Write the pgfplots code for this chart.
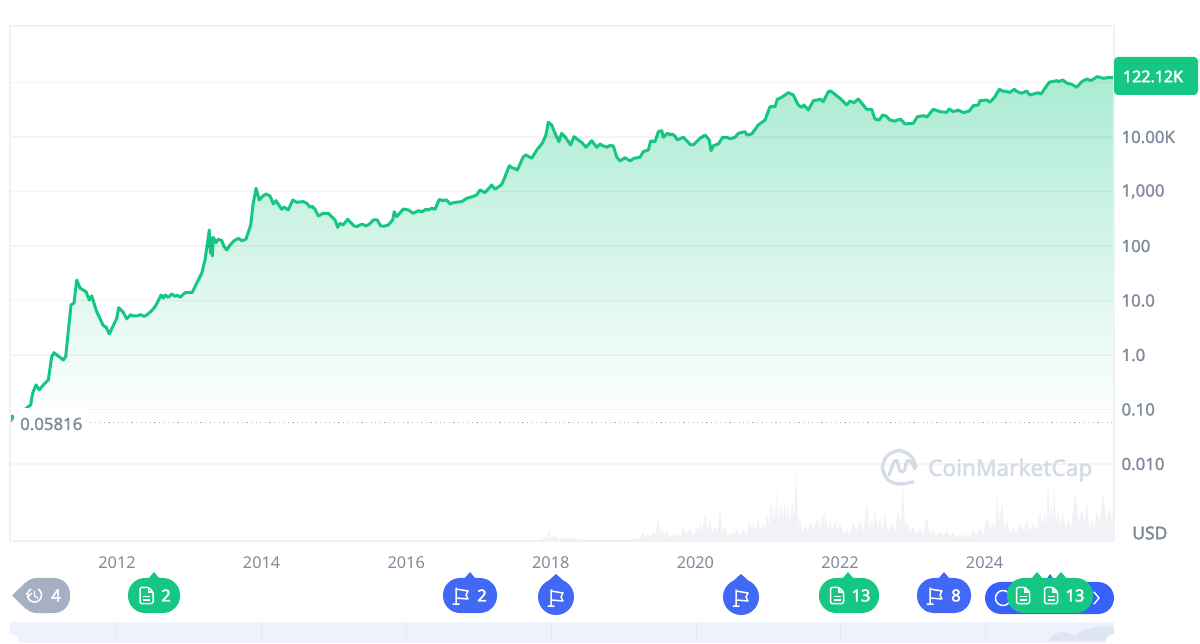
\documentclass[border=0pt]{standalone}
\usepackage{pgfplots}
\usepackage{pgfplotstable}
\pgfplotsset{compat=1.18}
\usepackage{fontspec}
\setmainfont{Noto Sans}
\newfontfamily\med[FakeBold=1.3]{Noto Sans}
\newfontfamily\bld[FakeBold=2.4]{Noto Sans}
\definecolor{cmcg}{HTML}{16C784}
\definecolor{cmcb}{HTML}{4169F5}
\definecolor{cmcbb}{HTML}{3861FB}
\definecolor{lab}{HTML}{808A9D}
\definecolor{frame}{HTML}{EFF2F5}
\definecolor{vol}{HTML}{F0F2F6}
\definecolor{wm}{HTML}{D6DCE7}
\definecolor{greyp}{HTML}{A6B0C3}
\definecolor{strip}{HTML}{EEF2FC}
\definecolor{stripd}{HTML}{DFE6F3}
\definecolor{strips}{HTML}{E4E9F5}
\definecolor{dots}{HTML}{B9B2BA}

\pgfplotstableread{
year price
2010.527 0.059
2010.548 0.076
2010.603 0.064
2010.686 0.090
2010.773 0.1125
2010.806 0.121
2010.834 0.201
2010.880 0.282
2010.925 0.228
2010.981 0.282
2011.050 0.348
2011.097 0.931
2011.129 1.10
2011.257 0.81
2011.290 0.93
2011.364 8.27
2011.405 9.0
2011.443 23.8
2011.488 16.9
2011.571 14.5
2011.617 10.2
2011.650 12.2
2011.719 6.23
2011.811 3.45
2011.848 3.26
2011.894 2.43
2011.996 4.71
2012.024 7.38
2012.087 6.07
2012.134 4.58
2012.189 5.49
2012.220 5.2
2012.272 5.19
2012.330 5.5
2012.370 5.1
2012.411 5.42
2012.480 6.50
2012.526 7.70
2012.557 9.11
2012.609 12.6
2012.640 11.0
2012.664 12.6
2012.710 11.4
2012.757 13.2
2012.800 12.0
2012.840 12.4
2012.871 11.4
2012.941 13.9
2013.041 14.1
2013.102 20.7
2013.172 31.6
2013.217 55.3
2013.277 197
2013.293 74.4
2013.307 140
2013.318 65.6
2013.332 144
2013.369 115
2013.401 133
2013.450 125
2013.480 98
2013.517 84.5
2013.563 104
2013.620 125
2013.678 138
2013.730 125
2013.784 133
2013.849 243
2013.881 565
2013.923 1145
2013.968 698
2014.019 827
2014.061 899
2014.116 827
2014.162 590
2014.199 678
2014.278 471
2014.310 520
2014.369 458
2014.430 698
2014.485 634
2014.577 650
2014.630 600
2014.669 513
2014.700 535
2014.739 471
2014.784 355
2014.853 398
2014.923 398
2015.015 300
2015.053 220
2015.084 261
2015.126 243
2015.191 309
2015.278 233
2015.320 228
2015.361 243
2015.400 250
2015.440 233
2015.490 250
2015.545 300
2015.600 300
2015.647 233
2015.700 232
2015.752 243
2015.813 300
2015.835 426
2015.869 345
2015.960 477
2016.029 458
2016.098 398
2016.167 444
2016.220 425
2016.270 470
2016.306 458
2016.353 492
2016.398 471
2016.458 719
2016.500 680
2016.560 698
2016.606 590
2016.650 620
2016.710 640
2016.767 650
2016.836 750
2016.900 790
2016.975 863
2017.021 1066
2017.090 951
2017.183 1316
2017.228 1097
2017.321 1343
2017.367 1871
2017.426 2972
2017.470 2700
2017.500 2650
2017.537 2478
2017.620 4355
2017.657 4677
2017.736 4064
2017.805 5768
2017.882 7656
2017.933 10890
2017.965 18620
2018.012 16596
2018.058 11695
2018.113 8202
2018.150 11695
2018.196 10139
2018.275 7129
2018.321 10139
2018.380 8810
2018.430 7900
2018.487 6471
2018.566 8551
2018.635 6471
2018.680 7447
2018.726 6839
2018.780 6500
2018.820 7000
2018.865 6839
2018.912 4246
2018.957 3631
2019.026 4169
2019.095 3631
2019.151 4064
2019.234 4246
2019.279 5370
2019.349 5768
2019.382 8453
2019.441 8202
2019.487 12510
2019.534 13060
2019.556 9870
2019.611 11695
2019.650 11000
2019.680 11300
2019.718 10423
2019.750 8810
2019.833 9870
2019.890 8300
2019.925 7345
2019.971 7129
2020.064 9462
2020.133 10890
2020.192 8810
2020.216 5610
2020.248 6918
2020.317 7447
2020.378 9870
2020.433 9870
2020.480 9300
2020.520 9600
2020.548 9870
2020.594 11695
2020.686 12510
2020.710 10890
2020.779 11350
2020.870 16596
2020.963 20510
2021.032 35980
2021.101 35980
2021.133 49200
2021.194 53460
2021.285 65020
2021.354 59020
2021.423 38640
2021.470 35080
2021.502 38640
2021.562 31260
2021.631 46340
2021.733 49200
2021.769 44460
2021.838 67770
2021.871 69820
2022.000 51290
2022.046 44460
2022.093 38640
2022.138 45810
2022.193 42560
2022.253 49770
2022.369 32210
2022.438 32210
2022.484 21380
2022.543 20510
2022.590 25350
2022.636 24270
2022.691 20510
2022.750 19500
2022.800 20600
2022.839 21130
2022.899 17340
2023.014 17820
2023.069 23560
2023.152 24600
2023.203 23280
2023.290 32210
2023.383 29110
2023.475 28380
2023.511 32660
2023.560 29500
2023.600 30000
2023.636 31260
2023.705 27930
2023.788 29990
2023.844 37500
2023.913 38640
2023.936 46340
2024.028 47750
2024.074 43350
2024.143 54830
2024.203 74990
2024.250 70000
2024.300 68000
2024.351 66070
2024.410 74990
2024.450 68000
2024.512 63390
2024.581 69820
2024.627 59020
2024.742 65020
2024.780 61000
2024.834 78340
2024.894 100900
2024.996 107900
2025.029 104300
2025.080 111200
2025.140 97000
2025.204 92700
2025.273 81660
2025.343 103500
2025.412 115900
2025.460 109000
2025.504 114500
2025.559 127900
2025.642 119400
2025.711 122500
2025.782 122120
}\price

\pgfplotstableread{
year volume
2017.851 2
2017.920 20
2017.950 8
2017.975 60
2017.995 12
2018.017 25
2018.038 12
2018.058 30
2018.100 10
2018.169 15
2018.240 8
2018.307 15
2018.404 5
2018.639 5
2019.095 5
2019.192 15
2019.235 9
2019.275 45
2019.310 20
2019.344 35
2019.380 20
2019.413 50
2019.450 28
2019.483 125
2019.510 40
2019.538 70
2019.570 28
2019.607 50
2019.650 20
2019.690 35
2019.725 20
2019.759 40
2019.795 24
2019.828 70
2019.875 32
2019.925 60
2019.975 32
2020.022 70
2020.045 38
2020.063 100
2020.095 54
2020.133 135
2020.170 60
2020.202 110
2020.235 40
2020.271 75
2020.305 42
2020.340 165
2020.375 40
2020.409 75
2020.445 22
2020.478 40
2020.525 32
2020.575 60
2020.615 32
2020.658 60
2020.705 32
2020.755 110
2020.775 48
2020.797 90
2020.830 48
2020.866 125
2020.900 48
2020.935 90
2020.960 48
2020.990 140
2021.020 75
2021.046 215
2021.075 95
2021.101 175
2021.115 95
2021.129 275
2021.155 100
2021.184 190
2021.210 105
2021.239 200
2021.260 95
2021.281 175
2021.310 95
2021.336 200
2021.365 105
2021.391 365
2021.420 70
2021.447 125
2021.480 45
2021.516 85
2021.550 45
2021.585 100
2021.630 55
2021.682 110
2021.725 60
2021.765 135
2021.780 70
2021.792 140
2021.830 60
2021.862 110
2021.895 55
2021.931 100
2021.965 48
2022.000 90
2022.050 32
2022.097 60
2022.140 32
2022.180 90
2022.230 48
2022.276 100
2022.325 55
2022.373 190
2022.410 60
2022.442 110
2022.465 60
2022.484 160
2022.520 60
2022.553 110
2022.590 60
2022.622 135
2022.670 48
2022.719 90
2022.760 48
2022.802 150
2022.840 80
2022.871 275
2022.900 55
2022.926 100
2022.970 40
2023.009 75
2023.060 32
2023.106 60
2023.155 32
2023.203 125
2023.245 32
2023.286 60
2023.335 28
2023.383 50
2023.430 28
2023.480 50
2023.520 22
2023.563 40
2023.610 18
2023.660 30
2023.710 18
2023.756 35
2023.800 20
2023.839 50
2023.890 32
2023.936 60
2023.985 32
2024.033 125
2024.075 55
2024.116 100
2024.145 55
2024.171 230
2024.205 100
2024.240 190
2024.275 60
2024.309 110
2024.350 38
2024.393 70
2024.440 38
2024.489 90
2024.540 50
2024.586 100
2024.630 48
2024.669 90
2024.720 50
2024.766 140
2024.800 75
2024.835 150
2024.855 82
2024.877 310
2024.898 100
2024.918 190
2024.940 100
2024.960 265
2024.988 80
2025.015 150
2025.050 75
2025.084 140
2025.120 60
2025.153 110
2025.200 60
2025.250 250
2025.300 88
2025.347 160
2025.380 88
2025.416 210
2025.450 60
2025.485 110
2025.520 60
2025.554 150
2025.595 82
2025.637 250
2025.685 95
2025.734 175
2025.760 95
2025.790 200
}\volume

\pgfplotstableread{
year price
2024.88 0
2024.95 55000
2025.02 70000
2025.08 78000
2025.15 68000
2025.22 55000
2025.28 50000
2025.33 85000
2025.41 105000
2025.50 110000
2025.56 130000
2025.64 120000
2025.71 125000
2025.79 122000
}\overview

\newcommand\docicon[2]{%
  \draw[white,line width=1.5pt,rounded corners=1.4pt,line join=round]
    (#1-6.5,#2-8)--(#1+2,#2-8)--(#1+6.5,#2-3.5)--(#1+6.5,#2+8)--(#1-6.5,#2+8)--cycle;
  \draw[white,line width=1.2pt] (#1+2,#2-8)--(#1+2,#2-3.5)--(#1+6.5,#2-3.5);
  \draw[white,line width=1.3pt] (#1-3.5,#2+1)--(#1+3.5,#2+1) (#1-3.5,#2+4.5)--(#1+3.5,#2+4.5);}
\newcommand\flagicon[2]{%
  \draw[white,line width=1.5pt,line join=round,line cap=round]
    (#1-5,#2-8)--(#1-5,#2+8) (#1-8,#2+8)--(#1-2,#2+8)
    (#1-5,#2-7)--(#1+7,#2-5)--(#1+5,#2-1)--(#1+7,#2+3)--(#1-5,#2+2);}

\begin{document}
\begin{tikzpicture}[x=1pt,y=1pt]
\path[use as bounding box] (0,0) rectangle (1200,643);

% volume (lowest layer)
\begin{axis}[at={(10pt,102pt)},anchor=south west,scale only axis,width=1104pt,height=515pt,
  xmin=2010.52,xmax=2025.79,ymin=0,ymax=2575,hide axis,clip=true]
\addplot[draw=none,fill=vol] table[x=year,y=volume] {\volume} \closedcycle;
\end{axis}

% price
\begin{axis}[at={(10pt,102pt)},anchor=south west,scale only axis,width=1104pt,height=515pt,
  xmin=2010.52,xmax=2025.79,ymode=log,ymin=0.000386,ymax=1088000,
  axis line style={frame,line width=1.2pt},
  xtick={2012,2014,2016,2018,2020,2022,2024},
  xticklabels={2012,2014,2016,2018,2020,2022,2024},
  ytick={0.01,0.1,1,10,100,1000,10000,100000},
  yticklabels={0.010,0.10,1.0,10.0,100,{1,000},10.00K,{}},
  minor y tick num=0,minor ytick={},
  tick style={draw=none},major tick length=0pt,
  axis y line*=right,axis x line*=bottom,
  ymajorgrids,major grid style={black,opacity=.045,line width=1.1pt},
  xticklabel style={font=\fontsize{16.3}{16}\selectfont,text=lab,yshift=-12pt},
  yticklabel style={font=\fontsize{16.8}{16}\selectfont\med,text=lab,anchor=west,xshift=4pt},
  axis on top,clip=true]
\addplot[draw=none,shade,top color=cmcg!36,bottom color=white,forget plot]
  table[x=year,y=price] {\price}
  -- (axis cs:2025.79,0.0582) -- (axis cs:2010.52,0.0582) -- cycle;
\addplot[cmcg,line width=3pt,line join=round] table[x=year,y=price] {\price};
\end{axis}

% the rest of the frame
\draw[frame,line width=1.2pt] (10,102) -- (10,617) -- (1114,617);

% overview strip
\fill[strip] (10,0) rectangle (1114,21);
\foreach \s in {116,261,406,551,696,840,985} \draw[strips,line width=1pt] (\s,0) -- (\s,21);
\begin{axis}[at={(10pt,0pt)},anchor=south west,scale only axis,width=1104pt,height=21pt,
  xmin=2010.52,xmax=2025.79,ymin=-15000,ymax=160000,hide axis,clip=true]
\addplot[draw=none,fill=stripd] table[x=year,y=price] {\overview} \closedcycle;
\end{axis}

% overlays, in the reference's pixel coordinates
\begin{scope}[yscale=-1,yshift=-643pt]
  \fill[white] (1114,643) circle (9);
  \fill[white] (10,643) circle (9);

  % start price label
  \fill[white] (14,408) rectangle (88,436);
  \draw[dots,line width=1.2pt,dash pattern=on 1.2pt off 3.4pt] (90,422.5) -- (1112,422.5);
  \node[anchor=west,inner sep=0,text=lab,font=\fontsize{16.8}{16}\selectfont\med] at (20,424) {0.05816};

  % last price
  \fill[cmcg,rounded corners=4pt] (1114,57) rectangle (1198,95);
  \node[text=white,inner sep=0,font=\fontsize{16}{15}\selectfont\bld] at (1153,76.5) {122.12K};

  \node[anchor=west,inner sep=0,text=lab,font=\fontsize{17.5}{16}\selectfont\bld] at (1132,533) {USD};

  % watermark
  \draw[wm,line width=3.4pt,smooth,line cap=round] plot coordinates
     {(913,482)(899,484)(888,480)(882.5,468)(887,456)(899,450.5)(911,456)(916,467)};
  \draw[wm,line width=3.2pt,line cap=round,line join=round,smooth] plot coordinates
     {(889,475)(894,462)(897,461)(900,471)(904,471)(907,461)(911,462)(915,469)};
  \node[anchor=west,inner sep=0,text=wm,font=\fontsize{22.6}{22}\selectfont\bld] at (928,470) {CoinMarketCap};

  % event pills
  \fill[greyp,rounded corners=16pt] (21,578) rectangle (70,613);
  \fill[greyp] (12,595.5) -- (26,582) -- (26,609) -- cycle;
  \draw[white,line width=1.5pt] (38,589) arc[start angle=-60,end angle=240,radius=7];
  \draw[white,line width=1.3pt,line cap=round] (34.5,591.5) -- (34.5,596) -- (38,598);
  \draw[white,line width=1.3pt] (26,593) -- (29,596) -- (32,593);
  \node[text=white,inner sep=0,font=\fontsize{16.5}{16}\selectfont\bld] at (56,595.5) {4};

  \fill[cmcg,rounded corners=17pt] (128,578) rectangle (180,613);
  \fill[cmcg] (148,579) -- (154,572) -- (160,579) -- cycle;
  \docicon{146.5}{595.5}
  \node[text=white,inner sep=0,font=\fontsize{16.5}{16}\selectfont\bld] at (166,595.5) {2};

  \fill[cmcb,rounded corners=17pt] (443,578) rectangle (497,613);
  \fill[cmcb] (464,579) -- (470,572) -- (476,579) -- cycle;
  \flagicon{461}{596}
  \node[text=white,inner sep=0,font=\fontsize{16.5}{16}\selectfont\bld] at (482,595.5) {2};

  \fill[cmcb] (556,597) circle (18);
  \fill[cmcb] (556,574) -- (566,583) -- (546,583) -- cycle;
  \flagicon{556}{598}

  \fill[cmcb] (741,597) circle (18);
  \fill[cmcb] (741,574) -- (751,583) -- (731,583) -- cycle;
  \flagicon{741}{598}

  \fill[cmcg,rounded corners=17pt] (819,578) rectangle (879,613);
  \fill[cmcg] (842,579) -- (848,572) -- (854,579) -- cycle;
  \docicon{837}{595.5}
  \node[text=white,inner sep=0,font=\fontsize{16.5}{16}\selectfont\bld] at (861,595.5) {13};

  \fill[cmcb,rounded corners=17pt] (917,578) rectangle (971,613);
  \fill[cmcb] (938,579) -- (944,572) -- (950,579) -- cycle;
  \flagicon{935}{596}
  \node[text=white,inner sep=0,font=\fontsize{16.5}{16}\selectfont\bld] at (956,595.5) {8};

  \fill[cmcbb,rounded corners=16pt] (985,582) rectangle (1114,614);
  \fill[cmcbb] (1044,583) -- (1050,574) -- (1056,583) -- cycle;
  \draw[white,line width=1.5pt] (1003,598) circle (7.5);
  \draw[white,line width=1.4pt,line cap=round,line join=round] (1094,592) -- (1099,598) -- (1094,604);
  \fill[cmcg,rounded corners=17pt] (1007,578) rectangle (1093,613);
  \fill[cmcg] (1031,579) -- (1037,572) -- (1043,579) -- cycle;
  \fill[cmcg] (1055,579) -- (1061,572) -- (1067,579) -- cycle;
  \docicon{1023}{595.5}
  \docicon{1051}{595.5}
  \node[text=white,inner sep=0,font=\fontsize{16.5}{16}\selectfont\bld] at (1075,595.5) {13};
\end{scope}
\end{tikzpicture}
\end{document}
